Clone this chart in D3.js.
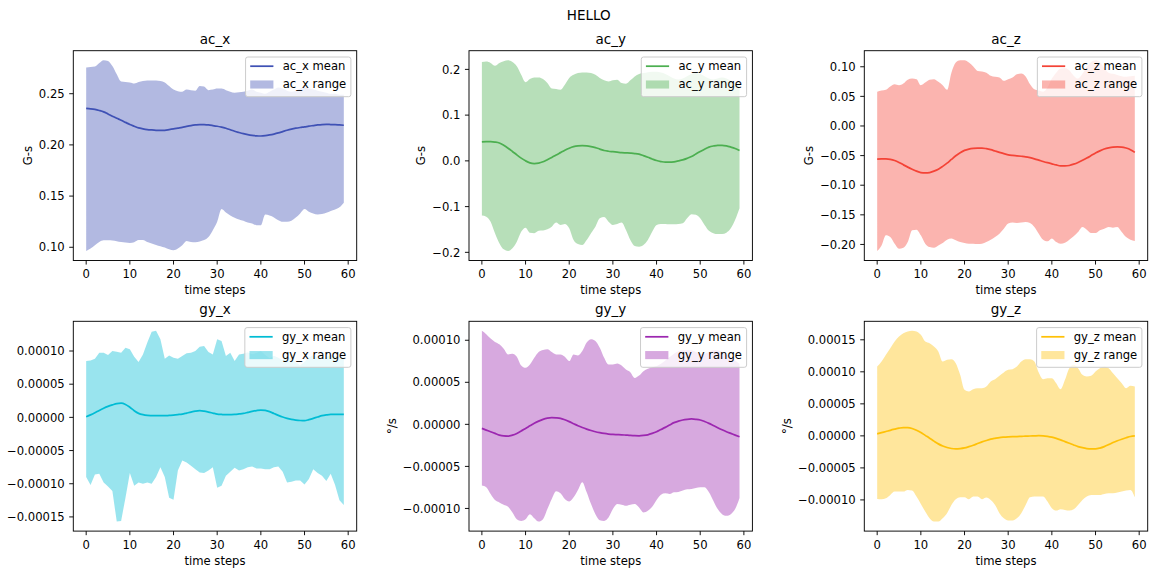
<!DOCTYPE html>
<html>
<head>
<meta charset="utf-8">
<script src="https://cdn.jsdelivr.net/npm/d3@7"></script>
<style>
  body { margin: 0; background: #fff; }
  svg { display: block; font-family: "DejaVu Sans", sans-serif; }
</style>
</head>
<body>
<svg id="chart" width="1153" height="574"></svg>
<script>
// data, one value per time step (0..59)
const acXMean = [0.2356,0.2352,0.2346,0.2336,0.2323,0.2302,0.2280,0.2260,0.2241,0.2220,
  0.2199,0.2182,0.2166,0.2157,0.2150,0.2146,0.2143,0.2142,0.2143,0.2149,
  0.2156,0.2164,0.2172,0.2181,0.2189,0.2195,0.2199,0.2198,0.2195,0.2189,
  0.2182,0.2173,0.2163,0.2148,0.2133,0.2121,0.2110,0.2101,0.2094,0.2089,
  0.2087,0.2090,0.2097,0.2106,0.2117,0.2130,0.2143,0.2154,0.2163,0.2170,
  0.2176,0.2183,0.2189,0.2195,0.2199,0.2200,0.2199,0.2198,0.2195,0.2192];
const acXUpper = [0.2755,0.2760,0.2765,0.2800,0.2827,0.2820,0.2770,0.2690,0.2620,0.2615,
  0.2610,0.2600,0.2615,0.2625,0.2630,0.2630,0.2630,0.2625,0.2610,0.2575,
  0.2540,0.2525,0.2520,0.2540,0.2535,0.2530,0.2575,0.2570,0.2535,0.2540,
  0.2550,0.2550,0.2535,0.2520,0.2510,0.2515,0.2520,0.2530,0.2540,0.2520,
  0.2510,0.2500,0.2520,0.2540,0.2560,0.2550,0.2530,0.2520,0.2530,0.2550,
  0.2560,0.2550,0.2540,0.2530,0.2520,0.2510,0.2500,0.2500,0.2490,0.2490];
const acXLower = [0.0964,0.0987,0.1020,0.1052,0.1069,0.1069,0.1066,0.1060,0.1052,0.1046,
  0.1043,0.1050,0.1070,0.1072,0.1052,0.1036,0.1023,0.1010,0.0997,0.0980,
  0.0970,0.0987,0.1020,0.1062,0.1052,0.1050,0.1056,0.1070,0.1100,0.1167,
  0.1250,0.1373,0.1340,0.1310,0.1288,0.1272,0.1259,0.1242,0.1233,0.1216,
  0.1216,0.1320,0.1310,0.1292,0.1265,0.1250,0.1250,0.1260,0.1290,0.1330,
  0.1373,0.1347,0.1330,0.1320,0.1324,0.1337,0.1354,0.1370,0.1390,0.1436];

const acYMean = [0.0416,0.0420,0.0420,0.0410,0.0390,0.0340,0.0277,0.0205,0.0130,0.0060,
  0.0000,-0.0045,-0.0060,-0.0050,-0.0020,0.0025,0.0073,0.0128,0.0180,0.0232,
  0.0277,0.0310,0.0328,0.0333,0.0328,0.0312,0.0290,0.0258,0.0226,0.0210,
  0.0200,0.0190,0.0180,0.0174,0.0168,0.0160,0.0146,0.0115,0.0080,0.0042,
  0.0007,-0.0015,-0.0030,-0.0030,-0.0020,0.0000,0.0022,0.0055,0.0095,0.0150,
  0.0204,0.0255,0.0300,0.0325,0.0340,0.0340,0.0328,0.0302,0.0270,0.0226];
const acYUpper = [0.216,0.217,0.214,0.208,0.214,0.218,0.220,0.216,0.2066,0.188,
  0.172,0.179,0.1825,0.1825,0.179,0.170,0.158,0.157,0.1555,0.1664,
  0.181,0.188,0.192,0.1934,0.1934,0.192,0.188,0.181,0.176,0.1737,
  0.176,0.1774,0.170,0.1686,0.176,0.1847,0.190,0.192,0.194,0.195,
  0.195,0.193,0.190,0.185,0.180,0.178,0.180,0.185,0.190,0.192,
  0.190,0.185,0.180,0.178,0.180,0.182,0.180,0.175,0.170,0.165];
const acYLower = [-0.1197,-0.122,-0.133,-0.158,-0.180,-0.1935,-0.197,-0.191,-0.1767,-0.155,
  -0.146,-0.157,-0.158,-0.153,-0.1525,-0.1497,-0.1438,-0.135,-0.140,-0.138,
  -0.1475,-0.173,-0.182,-0.184,-0.173,-0.158,-0.1438,-0.1256,-0.123,-0.133,
  -0.140,-0.138,-0.135,-0.1511,-0.173,-0.186,-0.1876,-0.184,-0.173,-0.155,
  -0.140,-0.138,-0.138,-0.1387,-0.1387,-0.138,-0.1365,-0.1256,-0.1168,-0.118,
  -0.1256,-0.140,-0.153,-0.158,-0.160,-0.160,-0.157,-0.1475,-0.129,-0.1037];

const acZMean = [-0.0560,-0.0556,-0.0554,-0.0562,-0.0582,-0.0615,-0.0656,-0.0695,-0.0730,-0.0762,
  -0.0786,-0.0792,-0.0786,-0.0762,-0.0730,-0.0682,-0.0628,-0.0565,-0.0503,-0.0452,
  -0.0412,-0.0390,-0.0378,-0.0373,-0.0372,-0.0383,-0.0400,-0.0423,-0.0446,-0.0468,
  -0.0486,-0.0496,-0.0503,-0.0511,-0.0520,-0.0535,-0.0554,-0.0576,-0.0599,-0.0620,
  -0.0639,-0.0658,-0.0673,-0.0675,-0.0667,-0.0645,-0.0616,-0.0580,-0.0542,-0.0500,
  -0.0457,-0.0420,-0.0389,-0.0368,-0.0355,-0.0352,-0.0355,-0.0372,-0.0400,-0.0446];
const acZUpper = [0.058,0.0597,0.061,0.0666,0.0705,0.0688,0.0716,0.0779,0.080,0.079,
  0.0688,0.0733,0.0779,0.079,0.0745,0.0688,0.061,0.090,0.107,0.111,
  0.111,0.107,0.1006,0.093,0.092,0.090,0.0847,0.083,0.0819,0.0762,
  0.079,0.0819,0.0875,0.0887,0.0836,0.0705,0.062,0.060,0.058,0.065,
  0.080,0.090,0.097,0.098,0.094,0.085,0.080,0.088,0.100,0.108,
  0.111,0.108,0.098,0.090,0.088,0.086,0.084,0.083,0.084,0.085];
const acZLower = [-0.211,-0.2016,-0.1846,-0.1875,-0.1988,-0.2073,-0.2056,-0.196,-0.176,-0.175,
  -0.1846,-0.1988,-0.2045,-0.2056,-0.2016,-0.1977,-0.192,-0.190,-0.193,-0.196,
  -0.1977,-0.1988,-0.1988,-0.1994,-0.1988,-0.196,-0.192,-0.1875,-0.1818,-0.1733,
  -0.1648,-0.163,-0.1637,-0.163,-0.162,-0.1637,-0.1705,-0.1818,-0.192,-0.1948,
  -0.190,-0.196,-0.1988,-0.197,-0.192,-0.186,-0.179,-0.1705,-0.175,-0.1807,
  -0.1807,-0.176,-0.1733,-0.1705,-0.1716,-0.1705,-0.179,-0.1875,-0.192,-0.194];

// gyro values are written in units of 1e-5 °/s
const GYRO_UNIT = 1e-5;
const gyXMean = [0.10,0.38,0.70,1.05,1.37,1.65,1.88,2.08,2.13,1.95,
  1.52,1.00,0.60,0.40,0.30,0.27,0.25,0.25,0.25,0.30,
  0.35,0.42,0.50,0.65,0.80,0.93,1.00,0.93,0.80,0.65,
  0.50,0.44,0.40,0.42,0.45,0.52,0.60,0.75,0.90,1.02,
  1.10,1.05,0.86,0.58,0.30,0.05,-0.15,-0.30,-0.40,-0.47,
  -0.50,-0.35,-0.15,0.05,0.25,0.37,0.45,0.46,0.45,0.45];
const gyXUpper = [8.48,8.58,8.83,9.75,9.75,9.39,10.0,9.9,9.75,10.5,
  10.25,9.14,8.33,9.49,11.27,12.9,13.04,11.77,8.83,9.34,
  8.99,8.83,9.24,9.65,9.75,10.0,10.66,10.76,9.85,9.49,
  11.77,11.52,9.24,9.75,8.48,9.49,9.6,9.8,9.5,9.7,
  10.0,9.4,8.9,9.3,9.0,8.6,9.2,8.8,8.3,7.8,
  8.4,9.0,9.4,9.0,8.6,9.1,9.4,9.2,9.0,9.0];
const gyXLower = [-9.0,-10.2,-8.6,-8.5,-9.8,-10.4,-11.1,-15.7,-15.6,-12.1,
  -8.4,-10.3,-9.8,-10.0,-9.8,-10.0,-9.0,-7.5,-9.0,-12.1,
  -12.4,-8.0,-6.5,-6.8,-7.3,-7.8,-8.3,-8.4,-8.0,-7.5,
  -10.6,-10.3,-8.8,-8.2,-7.6,-8.0,-7.8,-7.5,-7.4,-7.7,
  -7.7,-7.8,-7.8,-7.5,-7.4,-8.2,-9.8,-9.7,-9.5,-9.5,
  -10.1,-9.3,-7.8,-8.4,-8.8,-9.6,-8.5,-10.2,-12.5,-13.2];

const gyYMean = [-0.48,-0.68,-0.88,-1.08,-1.28,-1.38,-1.40,-1.28,-1.08,-0.80,
  -0.48,-0.18,0.12,0.38,0.60,0.74,0.80,0.78,0.72,0.54,
  0.32,0.08,-0.16,-0.37,-0.56,-0.73,-0.88,-0.99,-1.08,-1.15,
  -1.20,-1.22,-1.24,-1.28,-1.32,-1.35,-1.36,-1.32,-1.24,-1.08,
  -0.88,-0.62,-0.36,-0.08,0.20,0.38,0.52,0.60,0.64,0.60,
  0.52,0.34,0.12,-0.14,-0.40,-0.65,-0.88,-1.08,-1.28,-1.48];
const gyYUpper = [11.12,10.72,10.2,9.8,9.52,9.0,8.32,8.4,8.04,7.0,
  6.72,7.12,7.92,8.6,8.84,8.92,8.6,8.32,8.32,8.04,
  7.52,8.32,8.2,8.72,9.72,10.12,9.92,9.12,7.92,7.12,
  7.12,7.24,7.0,6.52,6.2,5.52,5.8,6.32,6.6,6.8,
  6.92,7.2,7.6,8.0,8.4,8.7,8.8,8.8,8.8,8.6,
  8.4,8.4,8.6,8.8,8.8,8.6,8.3,8.0,7.6,7.2];
const gyYLower = [-7.28,-7.48,-8.28,-9.0,-9.28,-9.56,-9.8,-10.48,-11.28,-11.48,
  -11.28,-10.68,-11.16,-11.56,-11.28,-10.08,-8.88,-7.96,-8.2,-8.88,
  -9.16,-8.68,-7.8,-6.88,-8.08,-9.48,-10.68,-11.4,-11.48,-11.08,
  -10.08,-9.48,-9.56,-9.68,-9.56,-9.48,-9.88,-10.48,-10.28,-9.8,
  -9.0,-8.36,-8.2,-8.28,-8.08,-8.04,-7.88,-7.72,-7.68,-7.56,
  -7.48,-7.48,-8.08,-9.08,-10.08,-10.68,-10.88,-10.68,-10.08,-8.76];

const gyZMean = [0.31,0.50,0.68,0.87,1.04,1.20,1.30,1.28,1.15,0.88,
  0.52,0.08,-0.36,-0.82,-1.25,-1.58,-1.82,-1.97,-2.03,-1.98,
  -1.87,-1.68,-1.46,-1.20,-0.94,-0.72,-0.52,-0.38,-0.26,-0.20,
  -0.16,-0.13,-0.10,-0.07,-0.05,-0.02,0.00,0.02,0.00,-0.08,
  -0.21,-0.40,-0.63,-0.89,-1.15,-1.42,-1.67,-1.85,-1.98,-2.03,
  -2.03,-1.90,-1.67,-1.37,-1.04,-0.76,-0.52,-0.30,-0.10,0.00];
const gyZUpper = [10.83,11.6,12.66,13.7,14.74,15.52,16.04,16.3,16.4,16.3,
  15.78,14.74,14.48,13.96,13.18,11.6,11.87,11.98,11.35,9.53,
  7.19,6.93,7.29,7.45,7.45,7.71,8.49,8.85,9.38,9.9,
  10.31,10.42,10.83,11.6,11.98,11.98,11.6,9.9,8.85,9.0,
  9.0,8.23,7.29,8.75,10.57,11.1,10.57,9.53,9.27,9.38,
  10.05,10.57,10.83,10.57,9.79,9.0,8.23,7.45,7.81,7.71];
const gyZLower = [-9.84,-9.9,-9.74,-9.22,-8.7,-8.7,-8.7,-8.44,-8.54,-9.48,
  -10.62,-11.82,-12.86,-13.38,-13.38,-12.86,-12.08,-10.78,-9.9,-9.58,
  -9.58,-9.9,-9.48,-9.48,-9.9,-9.64,-10.0,-10.78,-12.08,-12.86,
  -13.22,-13.22,-12.86,-12.08,-10.78,-9.58,-9.48,-9.48,-9.48,-10.26,
  -11.3,-11.67,-11.46,-11.56,-11.67,-11.46,-10.78,-10.0,-9.48,-9.22,
  -9.22,-9.22,-9.06,-8.96,-8.96,-8.85,-8.7,-8.54,-8.44,-9.58];

const panelNames = ["ac_x", "ac_y", "ac_z", "gy_x", "gy_y", "gy_z"];
const panelColors = ["#3F51B5", "#4CAF50", "#F44336", "#00BCD4", "#9C27B0", "#FFC107"];
const yLabels = ["G-s", "G-s", "G-s", "°/s", "°/s", "°/s"];
const xTicks = [0, 10, 20, 30, 40, 50, 60];
const yTicks = [
    [0.10, 0.15, 0.20, 0.25],
    [-0.2, -0.1, 0, 0.1, 0.2],
    [-0.20, -0.15, -0.10, -0.05, 0, 0.05, 0.10],
    [-0.00015, -0.00010, -0.00005, 0, 0.00005, 0.00010],
    [-0.00010, -0.00005, 0, 0.00005, 0.00010],
    [-0.00010, -0.00005, 0, 0.00005, 0.00010, 0.00015]
];
const yDecimals = [2, 1, 2, 5, 5, 5];
const suptitle = "HELLO";
const xLabel = "time steps";

const gyro = a => a.map(v => v * GYRO_UNIT);
const series = [
    [acXMean, acXUpper, acXLower],
    [acYMean, acYUpper, acYLower],
    [acZMean, acZUpper, acZLower],
    [gyro(gyXMean), gyro(gyXUpper), gyro(gyXLower)],
    [gyro(gyYMean), gyro(gyYUpper), gyro(gyYLower)],
    [gyro(gyZMean), gyro(gyZUpper), gyro(gyZLower)]
];

// layout (px)
const colLeft = [73.3, 469, 864.3];
const rowTop = [50.7, 321.3];
const axW = 283.4, axH = 209.8;
const fs = 11.6, titleFs = 13.5;
const tickLen = 4.06, tickPad = 4.06;

const svg = d3.select("#chart");

svg.append("text")
    .attr("x", 588.7).attr("y", 20)
    .attr("text-anchor", "middle")
    .attr("font-size", titleFs)
    .attr("fill", "#000")
    .text(suptitle);

panelNames.forEach((name, p) => {
    const [mean, upper, lower] = series[p];
    const color = panelColors[p];
    const left = colLeft[p % 3], top = rowTop[Math.floor(p / 3)];
    const g = svg.append("g").attr("transform", `translate(${left},${top})`);

    const n = mean.length;
    const xPad = (n - 1) * 0.05;
    const x = d3.scaleLinear().domain([-xPad, n - 1 + xPad]).range([0, axW]);
    const [lo, hi] = d3.extent(upper.concat(lower, mean));
    const yPad = (hi - lo) * 0.05;
    const y = d3.scaleLinear().domain([lo - yPad, hi + yPad]).range([axH, 0]);

    const curve = name === "gy_x" ? d3.curveLinear : d3.curveMonotoneX;
    const area = d3.area()
        .x((d, i) => x(i))
        .y0((d, i) => y(lower[i]))
        .y1((d, i) => y(upper[i]))
        .curve(curve);
    const line = d3.line()
        .x((d, i) => x(i))
        .y(d => y(d))
        .curve(d3.curveMonotoneX);

    g.append("path")
        .attr("d", area(mean))
        .attr("fill", color)
        .attr("fill-opacity", 0.4);
    g.append("path")
        .attr("d", line(mean))
        .attr("fill", "none")
        .attr("stroke", color)
        .attr("stroke-width", 1.74);

    // spines
    g.append("rect")
        .attr("width", axW).attr("height", axH)
        .attr("fill", "none")
        .attr("stroke", "#000")
        .attr("stroke-width", 0.93);

    // x ticks
    const xt = g.append("g").selectAll("g").data(xTicks).join("g")
        .attr("transform", d => `translate(${x(d)},${axH})`);
    xt.append("line").attr("y2", tickLen).attr("stroke", "#000").attr("stroke-width", 0.93);
    xt.append("text")
        .attr("y", 17.8)
        .attr("text-anchor", "middle")
        .attr("font-size", fs)
        .attr("fill", "#000")
        .text(d => d);

    g.append("text")
        .attr("x", axW / 2).attr("y", axH + 33.6)
        .attr("text-anchor", "middle")
        .attr("font-size", fs)
        .attr("fill", "#000")
        .text(xLabel);

    // y ticks
    const fmt = d3.format(`.${yDecimals[p]}f`);
    const yt = g.append("g").selectAll("g").data(yTicks[p]).join("g")
        .attr("transform", d => `translate(0,${y(d)})`);
    yt.append("line").attr("x2", -tickLen).attr("stroke", "#000").attr("stroke-width", 0.93);
    const ytText = yt.append("text")
        .attr("x", -(tickLen + tickPad + 0.5))
        .attr("dy", "0.36em")
        .attr("text-anchor", "end")
        .attr("font-size", fs)
        .attr("fill", "#000")
        .text(d => fmt(d));
    const maxW = d3.max(ytText.nodes(), nd => nd.getComputedTextLength());
    const labelX = -(tickLen + tickPad + 0.5) - maxW - 4.06 - 2.7;
    // a y label that would fall past the figure's left edge is cropped away, as in the source figure
    if (left + labelX - fs * 0.75 >= 0) {
        g.append("text")
            .attr("transform", `translate(${labelX},${axH / 2}) rotate(-90)`)
            .attr("text-anchor", "middle")
            .attr("font-size", fs)
            .attr("fill", "#000")
            .text(yLabels[p]);
    }

    // title
    g.append("text")
        .attr("x", axW / 2).attr("y", -7)
        .attr("text-anchor", "middle")
        .attr("font-size", titleFs)
        .attr("fill", "#000")
        .text(name);

    // legend (upper right)
    const leg = g.append("g");
    const frame = leg.append("rect");
    const labels = [`${name} mean`, `${name} range`];
    const rowY = [15.5, 33.8];
    const texts = leg.selectAll("text").data(labels).join("text")
        .attr("y", (d, i) => rowY[i])
        .attr("dy", "0.32em")
        .attr("font-size", fs)
        .attr("fill", "#000")
        .text(d => d);
    const textW = d3.max(texts.nodes(), nd => nd.getComputedTextLength());
    const legW = 4.64 + 23.2 + 9.3 + textW + 4.64;
    const legX = axW - 5.8 - legW;
    frame.attr("x", legX).attr("y", 6.3)
        .attr("width", legW).attr("height", 39.7)
        .attr("rx", 2.3)
        .attr("fill", "#fff").attr("fill-opacity", 0.8)
        .attr("stroke", "#cccccc").attr("stroke-width", 1.0);
    texts.attr("x", legX + 4.64 + 23.2 + 9.3);
    leg.append("line")
        .attr("x1", legX + 4.64).attr("x2", legX + 4.64 + 23.2)
        .attr("y1", rowY[0]).attr("y2", rowY[0])
        .attr("stroke", color).attr("stroke-width", 1.74);
    leg.append("rect")
        .attr("x", legX + 4.64).attr("y", rowY[1] - 4.05)
        .attr("width", 23.2).attr("height", 8.1)
        .attr("fill", color).attr("fill-opacity", 0.4);
});
</script>
</body>
</html>
